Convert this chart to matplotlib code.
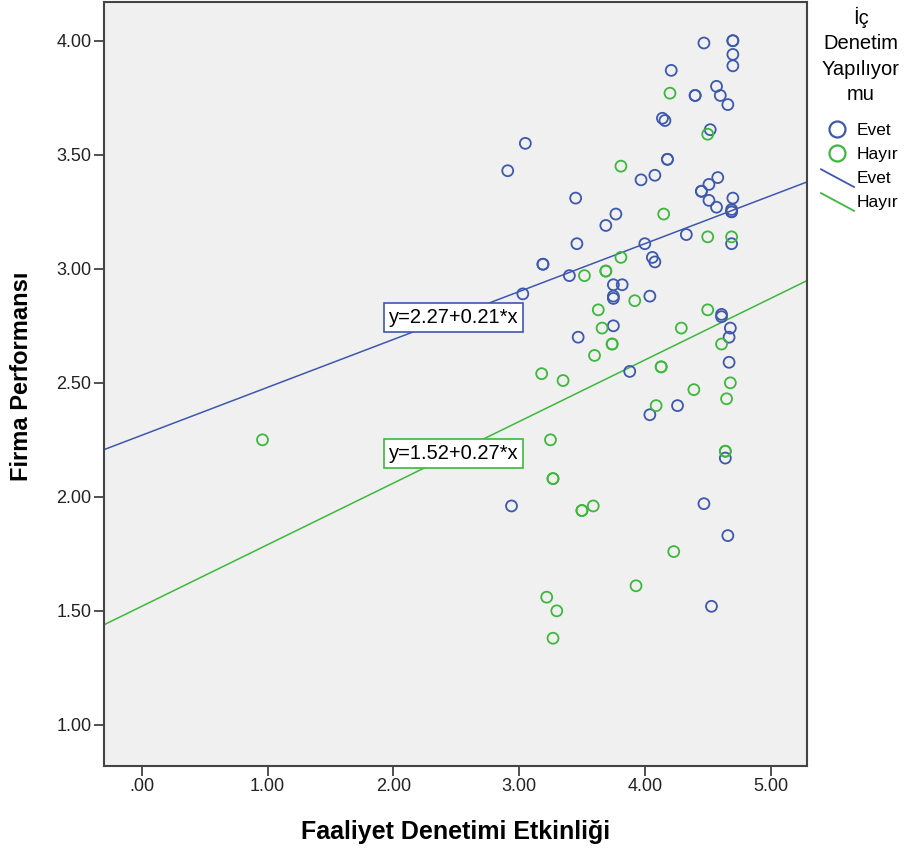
import matplotlib
matplotlib.use("Agg")
import matplotlib.pyplot as plt
from matplotlib.lines import Line2D
from matplotlib.legend_handler import HandlerBase
import numpy as np

plt.rcParams['font.family'] = ['Liberation Sans', 'DejaVu Sans']

# Evet group (blue)
evet_x = [4.47, 4.70, 4.70, 4.70, 4.70, 4.21, 4.40, 4.40, 4.57, 4.60, 4.66, 4.14, 4.16, 4.52,
          3.05, 2.91, 4.18, 4.18, 3.97, 4.08, 4.58, 4.51, 4.45, 4.45, 4.51, 4.57, 4.70, 4.69,
          4.69, 4.69, 3.45, 3.77, 3.69, 3.46, 4.33, 4.69, 4.00, 3.19, 3.19, 4.06, 4.08, 3.40,
          3.03, 3.75, 3.82, 3.75, 3.75, 4.04, 3.75, 3.47, 4.61, 4.61, 4.68, 4.67, 4.67, 3.88,
          4.04, 4.26, 4.64, 2.94, 4.47, 4.66, 4.53]
evet_y = [3.99, 4.00, 4.00, 3.94, 3.89, 3.87, 3.76, 3.76, 3.80, 3.76, 3.72, 3.66, 3.65, 3.61,
          3.55, 3.43, 3.48, 3.48, 3.39, 3.41, 3.40, 3.37, 3.34, 3.34, 3.30, 3.27, 3.31, 3.25,
          3.25, 3.26, 3.31, 3.24, 3.19, 3.11, 3.15, 3.11, 3.11, 3.02, 3.02, 3.05, 3.03, 2.97,
          2.89, 2.93, 2.93, 2.87, 2.88, 2.88, 2.75, 2.70, 2.79, 2.80, 2.74, 2.70, 2.59, 2.55,
          2.36, 2.40, 2.17, 1.96, 1.97, 1.83, 1.52]

# Hayir group (green)
hayir_x = [4.20, 4.50, 3.81, 4.15, 4.50, 4.69, 3.81, 3.52, 3.69, 3.69, 3.92, 3.63, 3.66, 3.74,
           3.74, 3.60, 3.18, 3.35, 4.13, 4.13, 4.29, 4.50, 4.61, 4.68, 4.65, 4.39, 4.09, 3.25,
           4.64, 4.64, 3.27, 3.27, 3.50, 3.50, 3.59, 4.23, 3.93, 3.22, 3.30, 3.27, 0.96]
hayir_y = [3.77, 3.59, 3.45, 3.24, 3.14, 3.14, 3.05, 2.97, 2.99, 2.99, 2.86, 2.82, 2.74, 2.67,
           2.67, 2.62, 2.54, 2.51, 2.57, 2.57, 2.74, 2.82, 2.67, 2.50, 2.43, 2.47, 2.40, 2.25,
           2.20, 2.20, 2.08, 2.08, 1.94, 1.94, 1.96, 1.76, 1.61, 1.56, 1.50, 1.38, 2.25]

# fit lines (intercept, slope)
evet_fit = (2.27, 0.21)
hayir_fit = (1.52, 0.27)

x_ticks = [0, 1, 2, 3, 4, 5]
y_ticks = [1.0, 1.5, 2.0, 2.5, 3.0, 3.5, 4.0]

blue = '#3E58AC'
green = '#3DB83D'


class DiagLine(HandlerBase):
    # SPSS draws the fit-line legend key as a slanted stroke
    def create_artists(self, legend, orig_handle, xdescent, ydescent,
                       width, height, fontsize, trans):
        ln = Line2D([-xdescent, width - xdescent], [height - ydescent + 1, -ydescent - 3],
                    color=orig_handle.get_color(), lw=orig_handle.get_linewidth(),
                    transform=trans)
        return [ln]


fig = plt.figure(figsize=(9.14, 8.52), dpi=100)
ax = fig.add_axes([0.1138, 0.101, 0.7692, 0.8967])
ax.set_facecolor('#F0F0F0')

xlim = (-0.30, 5.29)
ax.set_xlim(*xlim)
ax.set_ylim(0.82, 4.17)

ax.scatter(evet_x, evet_y, s=62, facecolors='none', edgecolors=blue, linewidths=1.3, zorder=3)
ax.scatter(hayir_x, hayir_y, s=62, facecolors='none', edgecolors=green, linewidths=1.3, zorder=3)

xs = np.array(xlim)
ax.plot(xs, evet_fit[0] + evet_fit[1] * xs, color=blue, lw=1.1, zorder=2)
ax.plot(xs, hayir_fit[0] + hayir_fit[1] * xs, color=green, lw=1.1, zorder=2)

ax.text(2.48, 2.788, 'y=%.2f+%.2f*x' % evet_fit, ha='center', va='center', fontsize=14.5,
        bbox=dict(boxstyle='square,pad=0.25', fc='white', ec=blue, lw=1.2), zorder=4)
ax.text(2.48, 2.189, 'y=%.2f+%.2f*x' % hayir_fit, ha='center', va='center', fontsize=14.5,
        bbox=dict(boxstyle='square,pad=0.25', fc='white', ec=green, lw=1.2), zorder=4)

ax.set_xticks(x_ticks)
ax.set_xticklabels(['.00' if v == 0 else '%.2f' % v for v in x_ticks])
ax.set_yticks(y_ticks)
ax.set_yticklabels(['%.2f' % v for v in y_ticks])
ax.tick_params(direction='out', length=7, width=1.2, pad=2, labelsize=13,
               colors='#333333', labelcolor='#222222')

for s in ax.spines.values():
    s.set_color('#444444')
    s.set_linewidth(1.5)

ax.set_xlabel('Faaliyet Denetimi Etkinliği', fontsize=18, fontweight='bold', labelpad=18)
ax.set_ylabel('Firma Performansı', fontsize=17, fontweight='bold')
ax.yaxis.set_label_coords(-0.101, 0.51)

# legend title as its own text so the gap to the entries can match
fig.text(861 / 914, 1 - 7 / 852, 'İç\nDenetim\nYapılıyor\nmu', ha='center', va='top',
         fontsize=14.5, linespacing=1.42)

handles = [
    Line2D([], [], ls='none', marker='o', ms=11.5, mfc='none', mec=blue, mew=1.6),
    Line2D([], [], ls='none', marker='o', ms=11.5, mfc='none', mec=green, mew=1.6),
    Line2D([], [], color=blue, lw=1.3),
    Line2D([], [], color=green, lw=1.3),
]
leg = fig.legend(handles, ['Evet', 'Hayır', 'Evet', 'Hayır'],
                 loc='upper left', bbox_to_anchor=(821 / 914, 1 - 123 / 852),
                 frameon=False, fontsize=12.5, handlelength=1.9, handletextpad=0.15,
                 labelspacing=0.5, borderaxespad=0, borderpad=0,
                 handler_map={handles[2]: DiagLine(), handles[3]: DiagLine()})

fig.savefig('out.png', dpi=100)
